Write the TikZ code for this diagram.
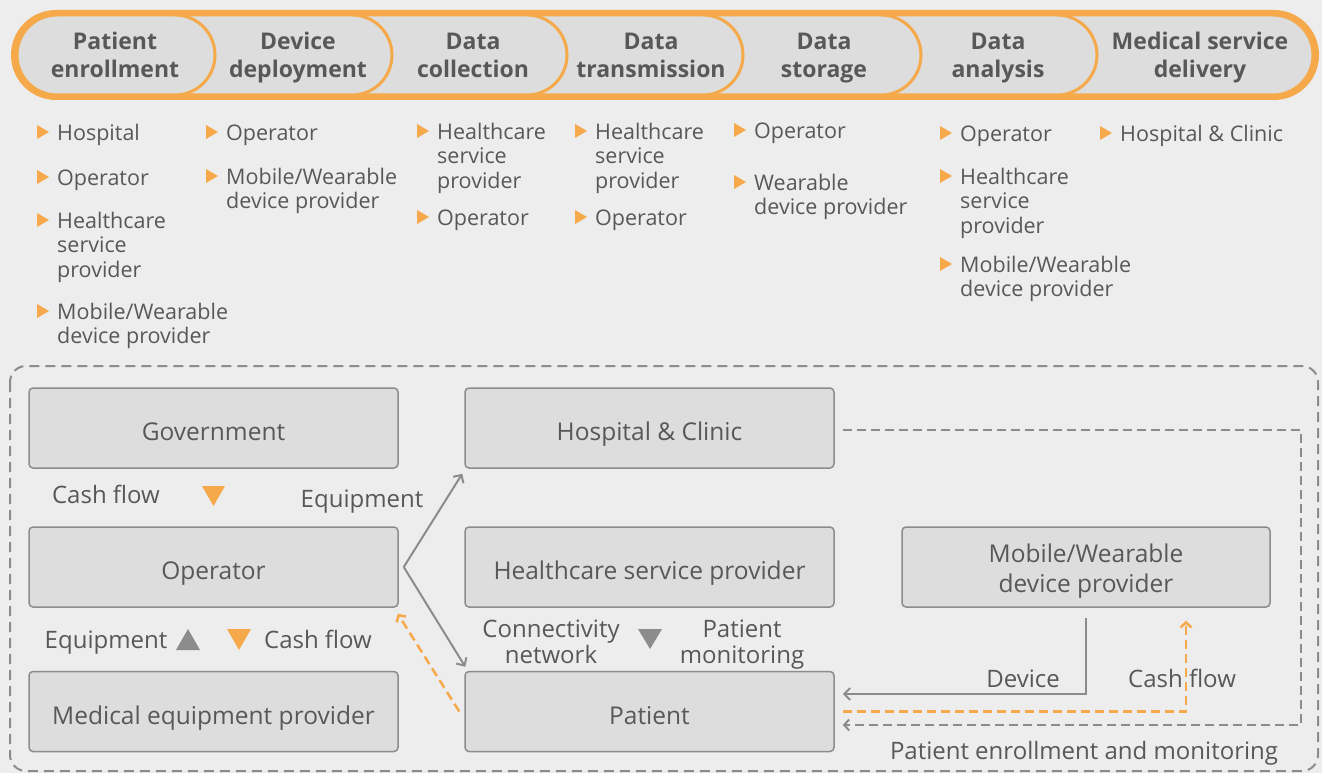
\documentclass[tikz,border=0pt]{standalone}
\usepackage{fontspec}
\setmainfont{Open Sans}
\usetikzlibrary{arrows.meta,calc}
\definecolor{bgc}{HTML}{EDEDED}
\definecolor{boxc}{HTML}{DCDDDC}
\definecolor{linec}{HTML}{8C8C8C}
\definecolor{txtc}{HTML}{58585A}
\definecolor{orc}{HTML}{F5A94A}
\newcommand\btri[1]{\fill[orc] ($(#1.north west)+(-20,2)$) -- ++(0,14) -- ++(12,-7) -- cycle;}
\newcommand\vt{\rule{0pt}{31pt}}
\newcommand\vtm{\rule{0pt}{27pt}}
\newcommand\vb{\rule[-6pt]{0pt}{6pt}}
\newcommand\hdtop{\rule{0pt}{20pt}}
\begin{document}
\begin{tikzpicture}[x=1pt,y=-1pt,
 seg/.style={fill=boxc, draw=orc, line width=3pt, rounded corners=40pt},
 head/.style={font=\fontsize{23}{28}\selectfont\bfseries, text=txtc, align=center, inner sep=0pt},
 item/.style={anchor=north west, inner sep=0pt, font=\fontsize{21.5}{24.5}\selectfont, text=txtc, align=left},
 box/.style={draw=linec, fill=boxc, line width=1.5pt, rounded corners=4pt, minimum width=369pt, minimum height=80pt, inner sep=0pt, font=\fontsize{24.5}{30}\selectfont, text=txtc, align=center},
 lbl/.style={font=\fontsize{24}{26}\selectfont, text=txtc, align=center, inner sep=0pt},
 garrow/.style={draw=linec, line width=2pt, -{Straight Barb[length=6pt,width=12pt]}},
 odash/.style={draw=orc, line width=2.5pt, dash pattern=on 9pt off 5pt},
 gdash/.style={draw=linec, line width=2pt, dash pattern=on 9pt off 5pt},
]
\useasboundingbox (0,0) rectangle (1322,773);
\fill[bgc] (0,0) rectangle (1322,773);

% header bar
\draw[draw=orc, fill=boxc, line width=5pt, rounded corners=42.5pt] (13.5,12.5) rectangle (1316.5,97.5);
\foreach \r in {1313,1097,921,743,567,392,215}{
  \draw[seg] (17,15) rectangle (\r,95);
}
\node[head] (h1) at (115,57) {\hdtop Patient\\enrollment\vb};
\node[head] (h2) at (298,57) {\hdtop Device\\deployment\vb};
\node[head] (h3) at (473,57) {\hdtop Data\\collection\vb};
\node[head] (h4) at (651,57) {\hdtop Data\\transmission\vb};
\node[head] (h5) at (824,57) {\hdtop Data\\storage\vb};
\node[head] (h6) at (998,57) {\hdtop Data\\analysis\vb};
\node[head] (h7) at (1200,57) {\hdtop Medical service\\delivery\vb};

% bullet lists
\node[item] (c1a) at (57,123) {\strut Hospital};
\node[item] (c1b) at (57,168) {\strut Operator};
\node[item] (c1c) at (57,211) {\strut Healthcare\\service\\provider};
\node[item] (c1d) at (57,302) {\strut Mobile/Wearable\\device provider};
\node[item] (c2a) at (226,123) {\strut Operator};
\node[item] (c2b) at (226,167) {\strut Mobile/Wearable\\device provider};
\node[item] (c3a) at (437,122) {\strut Healthcare\\service\\provider};
\node[item] (c3b) at (437,208) {\strut Operator};
\node[item] (c4a) at (595,122) {\strut Healthcare\\service\\provider};
\node[item] (c4b) at (595,208) {\strut Operator};
\node[item] (c5a) at (754,121) {\strut Operator};
\node[item] (c5b) at (754,173) {\strut Wearable\\device provider};
\node[item] (c6a) at (960,124) {\strut Operator};
\node[item] (c6b) at (960,167) {\strut Healthcare\\service\\provider};
\node[item] (c6c) at (960,255) {\strut Mobile/Wearable\\device provider};
\node[item] (c7a) at (1120,124) {\strut Hospital \& Clinic};
\foreach \n in {c1a,c1b,c1c,c1d,c2a,c2b,c3a,c3b,c4a,c4b,c5a,c5b,c6a,c6b,c6c,c7a}{
  \btri{\n}
}
% container
\draw[gdash, dash pattern=on 10pt off 6pt, rounded corners=16pt] (10,366) rectangle (1318,771);

% boxes
\node[box] (gov) at (213.5,428) {\vt Government\vb};
\node[box] (op) at (213.5,567) {\vt Operator\vb};
\node[box] (med) at (213.5,711.5) {\vt Medical equipment provider\vb};
\node[box] (hosp) at (649.5,428) {\vt Hospital \& Clinic\vb};
\node[box] (hsp) at (649.5,567) {\vt Healthcare service provider\vb};
\node[box] (pat) at (649.5,711.5) {\vt Patient\vb};
\node[box, minimum width=368pt] (mob) at (1086,567) {\vtm Mobile/Wearable\\device provider\vb};

% labels
\node[lbl] (l1) at (106,491) {\vt Cash flow\vb};
\fill[orc] (202,486) -- (225,486) -- (213.5,506) -- cycle;
\node[lbl] (l2) at (362,495) {\vt Equipment\vb};
\node[lbl] (l3) at (106,636) {\vt Equipment\vb};
\fill[linec] (176,650) -- (200,650) -- (188,629) -- cycle;
\fill[orc] (227,629) -- (251,629) -- (239,650) -- cycle;
\node[lbl] (l4) at (318,636) {\vt Cash flow\vb};
\node[lbl] (l5) at (551,638) {\vt Connectivity\\network\vb};
\fill[linec] (638,629) -- (662,629) -- (650,649) -- cycle;
\node[lbl] (l6) at (742,638) {\vt Patient\\monitoring\vb};
\node[lbl] (l7) at (1023,675) {\vt Device\vb};
\node[lbl] (l8) at (1182,675) {\vt Cash flow\vb};
\node[lbl] (l9) at (1084,747) {\vt Patient enrollment and monitoring\vb};

% connectors
\coordinate (v) at ($(op.east)+(5,0)$);
\draw[garrow] (v) -- ($(hosp.south west)+(-2,5)$);
\draw[garrow] (v) -- ($(pat.north west)+(1,-4)$);
\draw[odash, -{Straight Barb[length=5pt,width=11pt]}] ($(pat.west)+(-5,0)$) -- ($(op.south east)+(-1,6)$);
\draw[garrow] ($(mob.south)+(0,10)$) |- ($(pat.east)+(8,-17.5)$);
\draw[odash, -{Straight Barb[length=5pt,width=11pt]}] ($(pat.east)+(8,0)$) -| ($(mob.south)+(100,13)$);
\coordinate (c1) at (1301,430);
\coordinate (c2) at (1301,725);
\draw[gdash, -{Straight Barb[length=5pt,width=11pt]}] ($(hosp.east)+(8,2)$) -- (c1) -- (c2) -- ($(pat.east)+(8,13.5)$);
\end{tikzpicture}
\end{document}
